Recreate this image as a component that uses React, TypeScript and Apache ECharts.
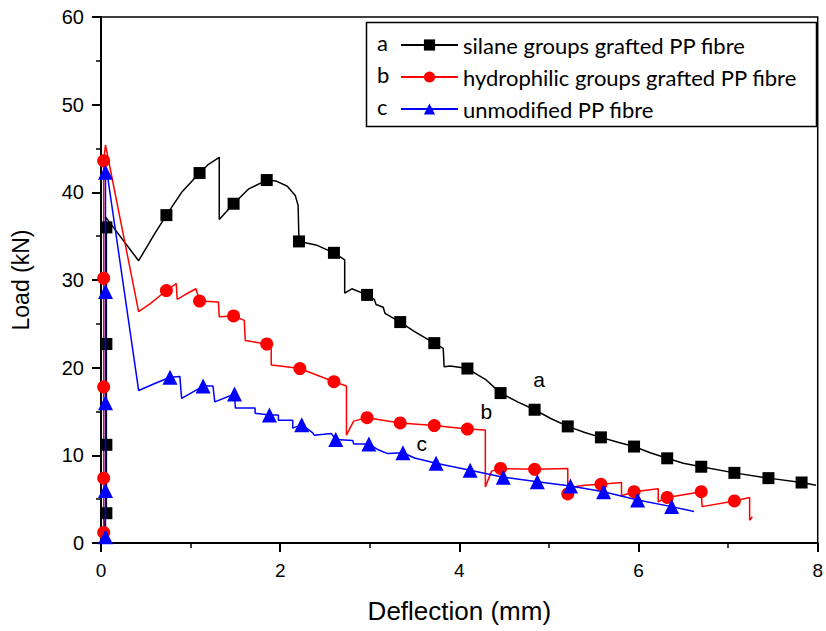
import React, { useEffect, useRef } from "react";
import * as echarts from "echarts";

// Curve a: silane groups grafted PP fibre
const aLine: number[][] = [
  [0, 0], [0.06, 3.4], [0.06, 11.2], [0.06, 22.7], [0.06, 36], [0.05, 37.2],
  [0.42, 32.2], [0.6, 35.3], [0.73, 37.4], [0.9, 40.0], [1.1, 42.2], [1.2, 43.2], [1.32, 44.0],
  [1.32, 36.9], [1.48, 38.7], [1.65, 40.4], [1.85, 41.4], [1.95, 41.3], [2.08, 40.7], [2.17, 39.6],
  [2.2, 38.5], [2.21, 34.4], [2.4, 34.0], [2.6, 33.1], [2.72, 32.3], [2.72, 28.5], [2.8, 29.0],
  [2.97, 28.3], [3.05, 27.8], [3.07, 27.2], [3.15, 26.9], [3.17, 26.2], [3.34, 25.2], [3.5, 24.1],
  [3.72, 22.8], [3.82, 22.2], [3.83, 20.1], [3.9, 20.2], [4.09, 19.9], [4.2, 19.2], [4.3, 18.6],
  [4.46, 17.1], [4.65, 16.1], [4.84, 15.2], [5.02, 14.2], [5.21, 13.3], [5.4, 12.6], [5.58, 12.05],
  [5.77, 11.5], [5.95, 11.0], [6.13, 10.3], [6.32, 9.66], [6.5, 9.1], [6.7, 8.7], [7.07, 8.0],
  [7.45, 7.4], [7.82, 6.9], [7.98, 6.6],
];
const aMarkers: number[][] = [
  [0.06, 3.4], [0.06, 11.2], [0.06, 22.7], [0.06, 36], [0.73, 37.4], [1.1, 42.2], [1.48, 38.7],
  [1.85, 41.4], [2.21, 34.4], [2.6, 33.1], [2.97, 28.3], [3.34, 25.2], [3.72, 22.8], [4.09, 19.9],
  [4.46, 17.1], [4.84, 15.2], [5.21, 13.3], [5.58, 12.05], [5.95, 11.0], [6.32, 9.66], [6.7, 8.7],
  [7.07, 8.0], [7.45, 7.4], [7.82, 6.9],
];

// Curve b: hydrophilic groups grafted PP fibre
const bLine: number[][] = [
  [0, 0], [0.03, 1.2], [0.03, 7.4], [0.03, 17.8], [0.03, 30.2], [0.03, 43.6], [0.05, 45.4],
  [0.42, 26.4], [0.55, 27.3], [0.73, 28.8], [0.84, 29.6], [0.85, 27.8], [0.95, 28.4], [1.06, 29.0],
  [1.1, 27.6], [1.31, 27.5], [1.32, 25.8], [1.48, 25.9], [1.6, 25.4], [1.61, 23.1], [1.85, 22.7],
  [1.9, 22.2], [1.9, 20.3], [2.0, 20.2], [2.22, 19.9], [2.45, 19.0], [2.6, 18.4], [2.74, 17.9],
  [2.74, 12.3], [2.82, 13.9], [2.97, 14.3], [3.34, 13.7], [3.72, 13.4], [4.09, 13.0], [4.29, 12.9],
  [4.29, 6.4], [4.36, 8.2], [4.46, 8.5], [4.84, 8.4], [5.21, 8.5], [5.21, 6.3], [5.4, 6.6],
  [5.58, 6.7], [5.81, 6.9], [5.81, 5.4], [5.95, 5.85], [6.22, 6.2], [6.22, 4.7], [6.32, 5.2],
  [6.7, 5.85], [6.71, 4.15], [7.07, 4.8], [7.24, 5.2], [7.24, 2.6], [7.27, 3.0],
];
const bMarkers: number[][] = [
  [0.03, 1.2], [0.03, 7.4], [0.03, 17.8], [0.03, 30.2], [0.03, 43.6], [0.73, 28.8], [1.1, 27.6],
  [1.48, 25.9], [1.85, 22.7], [2.22, 19.9], [2.6, 18.4], [2.97, 14.3], [3.34, 13.7], [3.72, 13.4],
  [4.09, 13.0], [4.46, 8.5], [4.84, 8.4], [5.21, 5.6], [5.58, 6.7], [5.95, 5.85], [6.32, 5.2],
  [6.7, 5.85], [7.07, 4.8],
];

// Curve c: unmodified PP fibre
const cLine: number[][] = [
  [0, 0], [0.05, 0.7], [0.05, 6.0], [0.05, 16.0], [0.05, 28.7], [0.05, 42.3], [0.06, 42.8],
  [0.42, 17.4], [0.6, 18.2], [0.77, 18.9], [0.88, 19.0], [0.9, 16.5], [1.14, 17.9], [1.25, 17.9],
  [1.27, 16.1], [1.49, 17.0], [1.5, 15.4], [1.72, 15.4], [1.72, 14.8], [1.88, 14.6], [1.98, 14.6],
  [1.98, 14.0], [2.14, 14.0], [2.14, 13.1], [2.24, 13.5], [2.36, 12.6], [2.38, 12.3], [2.57, 12.5],
  [2.62, 11.8], [2.81, 11.7], [2.82, 11.3], [2.99, 11.3], [3.1, 10.6], [3.2, 10.2], [3.37, 10.3],
  [3.5, 9.7], [3.74, 9.1], [4.12, 8.3], [4.49, 7.5], [4.87, 7.0], [5.24, 6.5], [5.61, 5.85],
  [5.99, 4.9], [6.37, 4.15], [6.62, 3.6],
];
const cMarkers: number[][] = [
  [0.05, 0.7], [0.05, 6.0], [0.05, 16.0], [0.05, 28.7], [0.05, 42.3], [0.77, 18.9], [1.14, 17.9],
  [1.49, 17.0], [1.88, 14.6], [2.24, 13.5], [2.62, 11.8], [2.99, 11.3], [3.37, 10.3], [3.74, 9.1],
  [4.12, 8.3], [4.49, 7.5], [4.87, 7.0], [5.24, 6.5], [5.61, 5.85], [5.99, 4.9], [6.37, 4.15],
];

const seriesNames = [
  "silane groups grafted PP fibre",
  "hydrophilic groups grafted PP fibre",
  "unmodified PP fibre",
];
const seriesLetters = ["a", "b", "c"];
const curveLabels: { text: string; x: number; y: number }[] = [
  { text: "a", x: 4.89, y: 18.6 },
  { text: "b", x: 4.3, y: 15.0 },
  { text: "c", x: 3.58, y: 11.3 },
];

export default function App() {
  const ref = useRef<HTMLDivElement>(null);
  useEffect(() => {
    if (!ref.current) return;
    const chart = echarts.init(ref.current, null, { renderer: "svg" });
    const colors = ["#000000", "#ff0000", "#0000ff"];
    const symbols = ["rect", "circle", "triangle"];
    const sizes = [12, 13, 15];
    const lines = [aLine, bLine, cLine];
    const markers = [aMarkers, bMarkers, cMarkers];
    const series: any[] = [];
    for (let i = 0; i < 3; i++) {
      series.push({
        name: seriesNames[i],
        type: "line",
        data: lines[i],
        symbol: symbols[i],
        symbolSize: sizes[i],
        showSymbol: false,
        lineStyle: { color: colors[i], width: 1.5 },
        itemStyle: { color: colors[i] },
        z: 2 + i,
      });
      series.push({
        name: seriesNames[i] + " markers",
        type: "scatter",
        data: markers[i],
        symbol: symbols[i],
        symbolSize: sizes[i],
        itemStyle: { color: colors[i], opacity: 1 },
        z: 3 + i,
      });
    }
    series.push({
      type: "scatter",
      data: curveLabels.map((d) => ({ value: [d.x, d.y], name: d.text })),
      symbolSize: 0,
      itemStyle: { opacity: 1 },
      label: {
        show: true,
        position: "inside",
        formatter: (p: any) => p.name,
        fontFamily: "Liberation Sans",
        fontSize: 21,
        color: "#000",
        opacity: 1,
      },
      z: 10,
    });
    const fontFamily = "Liberation Sans";
    const legendFont = "Lato";
    chart.setOption({
      animation: false,
      grid: {
        left: 101,
        top: 17,
        right: 6,
        bottom: 88,
        show: true,
        borderColor: "#000",
        borderWidth: 1.5,
      },
      xAxis: {
        type: "value",
        min: 0,
        max: 8,
        interval: 2,
        axisLine: { show: true, lineStyle: { color: "#000", width: 2 } },
        axisTick: { show: true, inside: false, length: 9, lineStyle: { color: "#000", width: 2 } },
        minorTick: { show: true, splitNumber: 2, length: 5, lineStyle: { color: "#000", width: 1.5 } },
        splitLine: { show: false },
        axisLabel: { color: "#000", fontSize: 19, fontFamily, margin: 18 },
        name: "Deflection (mm)",
        nameLocation: "middle",
        nameGap: 55,
        nameTextStyle: { color: "#000", fontSize: 26, fontFamily },
      },
      yAxis: {
        type: "value",
        min: 0,
        max: 60,
        interval: 10,
        axisLine: { show: true, lineStyle: { color: "#000", width: 2 } },
        axisTick: { show: true, inside: false, length: 9, lineStyle: { color: "#000", width: 2 } },
        minorTick: { show: true, splitNumber: 2, length: 5, lineStyle: { color: "#000", width: 1.5 } },
        splitLine: { show: false },
        axisLabel: { color: "#000", fontSize: 20, fontFamily, margin: 17 },
        name: "Load (kN)",
        nameLocation: "middle",
        nameGap: 69,
        nameTextStyle: { color: "#000", fontSize: 23, fontFamily },
      },
      legend: {
        data: seriesNames,
        orient: "vertical",
        left: 395,
        top: 29,
        itemWidth: 57,
        itemHeight: 14,
        itemGap: 10,
        textStyle: { color: "#000", fontSize: 22, fontFamily: legendFont },
      },
      graphic: [
        {
          type: "rect",
          shape: { x: 366.5, y: 22.5, width: 450, height: 104 },
          style: { fill: "rgba(0,0,0,0)", stroke: "#000", lineWidth: 1.5 },
          z: 100,
        },
        ...seriesLetters.map((t, i) => ({
          type: "text",
          left: 377,
          top: 31 + i * 32,
          style: { text: t, fontSize: 22, fontFamily: legendFont, fill: "#000" },
          z: 100,
        })),
      ],
      series,
    });
    return () => chart.dispose();
  }, []);
  return (
    <div
      ref={ref}
      style={{ position: "absolute", left: 0, top: 0, width: 826, height: 631 }}
    />
  );
}
